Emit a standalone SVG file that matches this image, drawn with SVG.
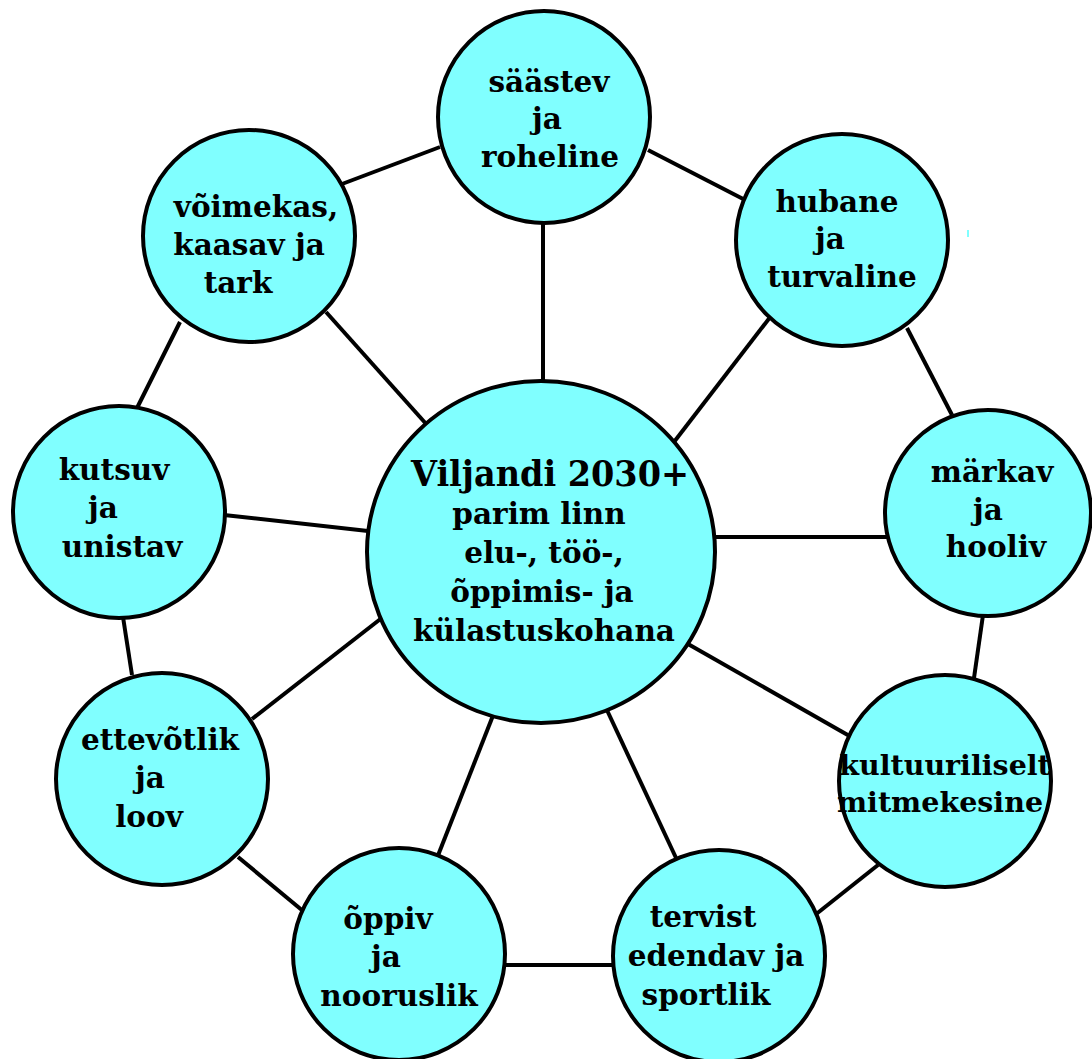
<svg xmlns="http://www.w3.org/2000/svg" width="1092" height="1059" viewBox="0 0 1092 1059">
<style>
.bg{fill:#ffffff}
.c{fill:#80ffff;stroke:#000;stroke-width:4}
.e line{stroke:#000;stroke-width:4;stroke-linecap:butt}
text{font-family:"DejaVu Serif","Liberation Serif",serif;font-weight:bold;font-size:29.5px;fill:#000;text-anchor:middle}
.k{font-size:28.5px}
.h{font-size:35px}
</style>
<rect class="bg" x="0" y="0" width="1092" height="1059"/>
<g id="connectors" class="e">
<line x1="342" y1="184" x2="440" y2="147"/>
<line x1="648" y1="150" x2="749" y2="202"/>
<line x1="543" y1="220" x2="543" y2="390"/>
<line x1="180" y1="322" x2="137" y2="408"/>
<line x1="326" y1="312" x2="428" y2="426"/>
<line x1="771" y1="316" x2="674" y2="442"/>
<line x1="907" y1="328" x2="952" y2="415"/>
<line x1="224" y1="515" x2="368" y2="531"/>
<line x1="712" y1="537" x2="888" y2="537"/>
<line x1="123" y1="617" x2="132" y2="675"/>
<line x1="252" y1="719" x2="383" y2="617"/>
<line x1="238" y1="857" x2="303" y2="911"/>
<line x1="437" y1="858" x2="494" y2="713"/>
<line x1="688" y1="644" x2="853" y2="738"/>
<line x1="606" y1="708" x2="677" y2="860"/>
<line x1="983" y1="615" x2="974" y2="678"/>
<line x1="878" y1="865" x2="815" y2="915"/>
<line x1="500" y1="965" x2="616" y2="965"/>
</g>
<g id="n-saastev">
<circle class="c" cx="544" cy="117" r="106"/>
<text x="549" y="92">säästev</text>
<text x="547" y="129">ja</text>
<text x="550" y="167">roheline</text>
</g>
<g id="n-voimekas">
<circle class="c" cx="249" cy="236" r="106"/>
<text x="256" y="217">võimekas,</text>
<text x="249" y="255">kaasav ja</text>
<text x="238" y="293">tark</text>
</g>
<g id="n-hubane">
<circle class="c" cx="842" cy="240" r="106"/>
<text x="837" y="212">hubane</text>
<text x="830" y="249">ja</text>
<text x="842" y="287">turvaline</text>
</g>
<rect x="967" y="230" width="2" height="7" fill="#80ffff"/>
<g id="n-kutsuv">
<circle class="c" cx="119" cy="512" r="106"/>
<text x="114" y="480">kutsuv</text>
<text x="103" y="518">ja</text>
<text x="122" y="557">unistav</text>
</g>
<g id="n-markav">
<circle class="c" cx="988" cy="513" r="103"/>
<text x="992" y="482">märkav</text>
<text x="988" y="520">ja</text>
<text x="996" y="557">hooliv</text>
</g>
<g id="n-center">
<ellipse class="c" cx="541" cy="552" rx="174" ry="171"/>
<text class="h" x="550" y="486" textLength="278" lengthAdjust="spacingAndGlyphs">Viljandi 2030+</text>
<text x="539" y="524">parim linn</text>
<text x="544" y="563">elu-, töö-,</text>
<text x="542" y="602">õppimis- ja</text>
<text x="544" y="641" textLength="262" lengthAdjust="spacingAndGlyphs">külastuskohana</text>
</g>
<g id="n-ettevotlik">
<circle class="c" cx="162" cy="779" r="106"/>
<text x="160" y="750">ettevõtlik</text>
<text x="150" y="788">ja</text>
<text x="149" y="827">loov</text>
</g>
<g id="n-kultuuriliselt">
<circle class="c" cx="945" cy="781" r="106"/>
<text class="k" x="945" y="775">kultuuriliselt</text>
<text class="k" x="940" y="812">mitmekesine</text>
</g>
<g id="n-oppiv">
<circle class="c" cx="399" cy="954" r="106"/>
<text x="388" y="929">õppiv</text>
<text x="386" y="967">ja</text>
<text x="399" y="1006">nooruslik</text>
</g>
<g id="n-tervist">
<circle class="c" cx="719" cy="956" r="106"/>
<text x="703" y="927">tervist</text>
<text x="716" y="966">edendav ja</text>
<text x="706" y="1005">sportlik</text>
</g>
</svg>
